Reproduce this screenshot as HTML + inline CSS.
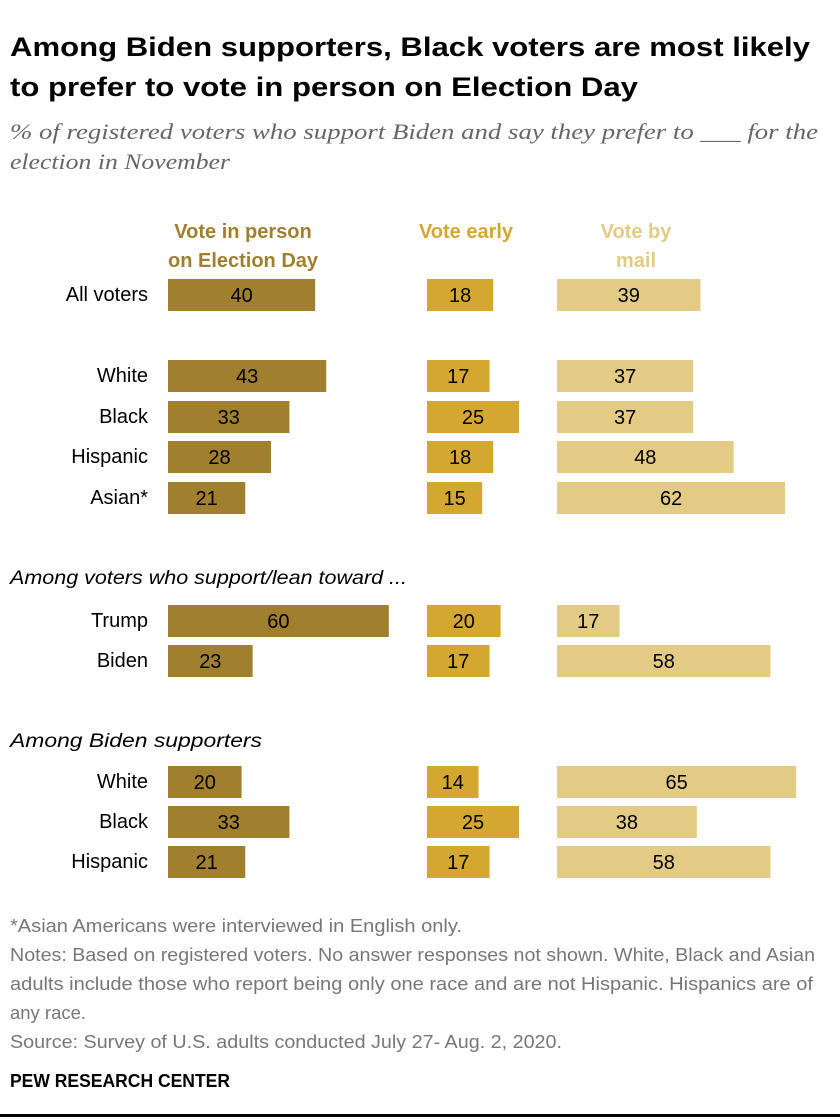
<!DOCTYPE html>
<html><head><meta charset="utf-8"><style>
body{margin:0;background:#fff;width:840px;height:1120px;overflow:hidden;font-family:"Liberation Sans",sans-serif;}
svg{display:block}
</style></head><body>
<svg width="840" height="1120" id="c" xmlns="http://www.w3.org/2000/svg">
<text x="10" y="56" font-weight="bold" font-size="27" fill="#000" textLength="800" lengthAdjust="spacingAndGlyphs">Among Biden supporters, Black voters are most likely</text>
<text x="10" y="96" font-weight="bold" font-size="27" fill="#000" textLength="628" lengthAdjust="spacingAndGlyphs">to prefer to vote in person on Election Day</text>
<text x="10" y="139" font-family="Liberation Serif" font-style="italic" font-size="22" fill="#666" textLength="808" lengthAdjust="spacingAndGlyphs">% of registered voters who support Biden and say they prefer to ___ for the</text>
<text x="10" y="169" font-family="Liberation Serif" font-style="italic" font-size="22" fill="#666" textLength="220" lengthAdjust="spacingAndGlyphs">election in November</text>
<g font-weight="bold" font-size="20" text-anchor="middle">
<text x="243" y="238" fill="#a0802f">Vote in person</text>
<text x="243" y="267" fill="#a0802f">on Election Day</text>
<text x="466" y="238" fill="#d4a830">Vote early</text>
<text x="636" y="238" fill="#e3cb85">Vote by</text>
<text x="636" y="267" fill="#e3cb85">mail</text>
</g>
<text x="10" y="584" font-style="italic" font-size="19" fill="#000" textLength="397" lengthAdjust="spacingAndGlyphs">Among voters who support/lean toward ...</text>
<text x="10" y="747" font-style="italic" font-size="19" fill="#000" textLength="252" lengthAdjust="spacingAndGlyphs">Among Biden supporters</text>
<g id="bars"></g>
<g font-size="18" fill="#777">
<text x="10" y="932" textLength="452" lengthAdjust="spacingAndGlyphs">*Asian Americans were interviewed in English only.</text>
<text x="10" y="961" textLength="805" lengthAdjust="spacingAndGlyphs">Notes: Based on registered voters. No answer responses not shown. White, Black and Asian</text>
<text x="10" y="990" textLength="803" lengthAdjust="spacingAndGlyphs">adults include those who report being only one race and are not Hispanic. Hispanics are of</text>
<text x="10" y="1019" textLength="76" lengthAdjust="spacingAndGlyphs">any race.</text>
<text x="10" y="1048" textLength="552" lengthAdjust="spacingAndGlyphs">Source: Survey of U.S. adults conducted July 27- Aug. 2, 2020.</text>
</g>
<text x="10" y="1087" font-weight="bold" font-size="18" fill="#000" textLength="220" lengthAdjust="spacingAndGlyphs">PEW RESEARCH CENTER</text>
<rect x="0" y="1114" width="840" height="3" fill="#000"/>
</svg>
<script>
const categories=["All voters","White","Black","Hispanic","Asian*","Trump","Biden","White","Black","Hispanic"];
const inPerson=[40,43,33,28,21,60,23,20,33,21];
const early=[18,17,25,18,15,20,17,14,25,17];
const mail=[39,37,37,48,62,17,58,65,38,58];
const rowTops=[279,360,401,441,482,605,645,766,806,846];
const colStarts=[168,427,557];
const colors=["#a0802f","#d4a830","#e3cb85"];
const series=[inPerson,early,mail];
const names=["in-person","early","mail"];
const scale=3.68, bh=32;
const ns="http://www.w3.org/2000/svg";
const g=document.getElementById("bars");
function x(v){return v*scale;}
categories.forEach((c,i)=>{
  const t=document.createElementNS(ns,"text");
  t.setAttribute("x",148);t.setAttribute("y",rowTops[i]+22);
  t.setAttribute("text-anchor","end");t.setAttribute("font-size","20");
  t.textContent=c;
  
  
  g.appendChild(t);
  series.forEach((s,j)=>{
    const r=document.createElementNS(ns,"rect");
    r.setAttribute("x",colStarts[j]);r.setAttribute("y",rowTops[i]);
    r.setAttribute("width",x(s[i]));r.setAttribute("height",bh);
    r.setAttribute("fill",colors[j]);
    
    
    g.appendChild(r);
    const v=document.createElementNS(ns,"text");
    v.setAttribute("x",colStarts[j]+x(s[i])/2);v.setAttribute("y",rowTops[i]+23);
    v.setAttribute("text-anchor","middle");v.setAttribute("font-size","20");
    v.textContent=s[i];
    
    
    g.appendChild(v);
  });
});
</script>
</body></html>
